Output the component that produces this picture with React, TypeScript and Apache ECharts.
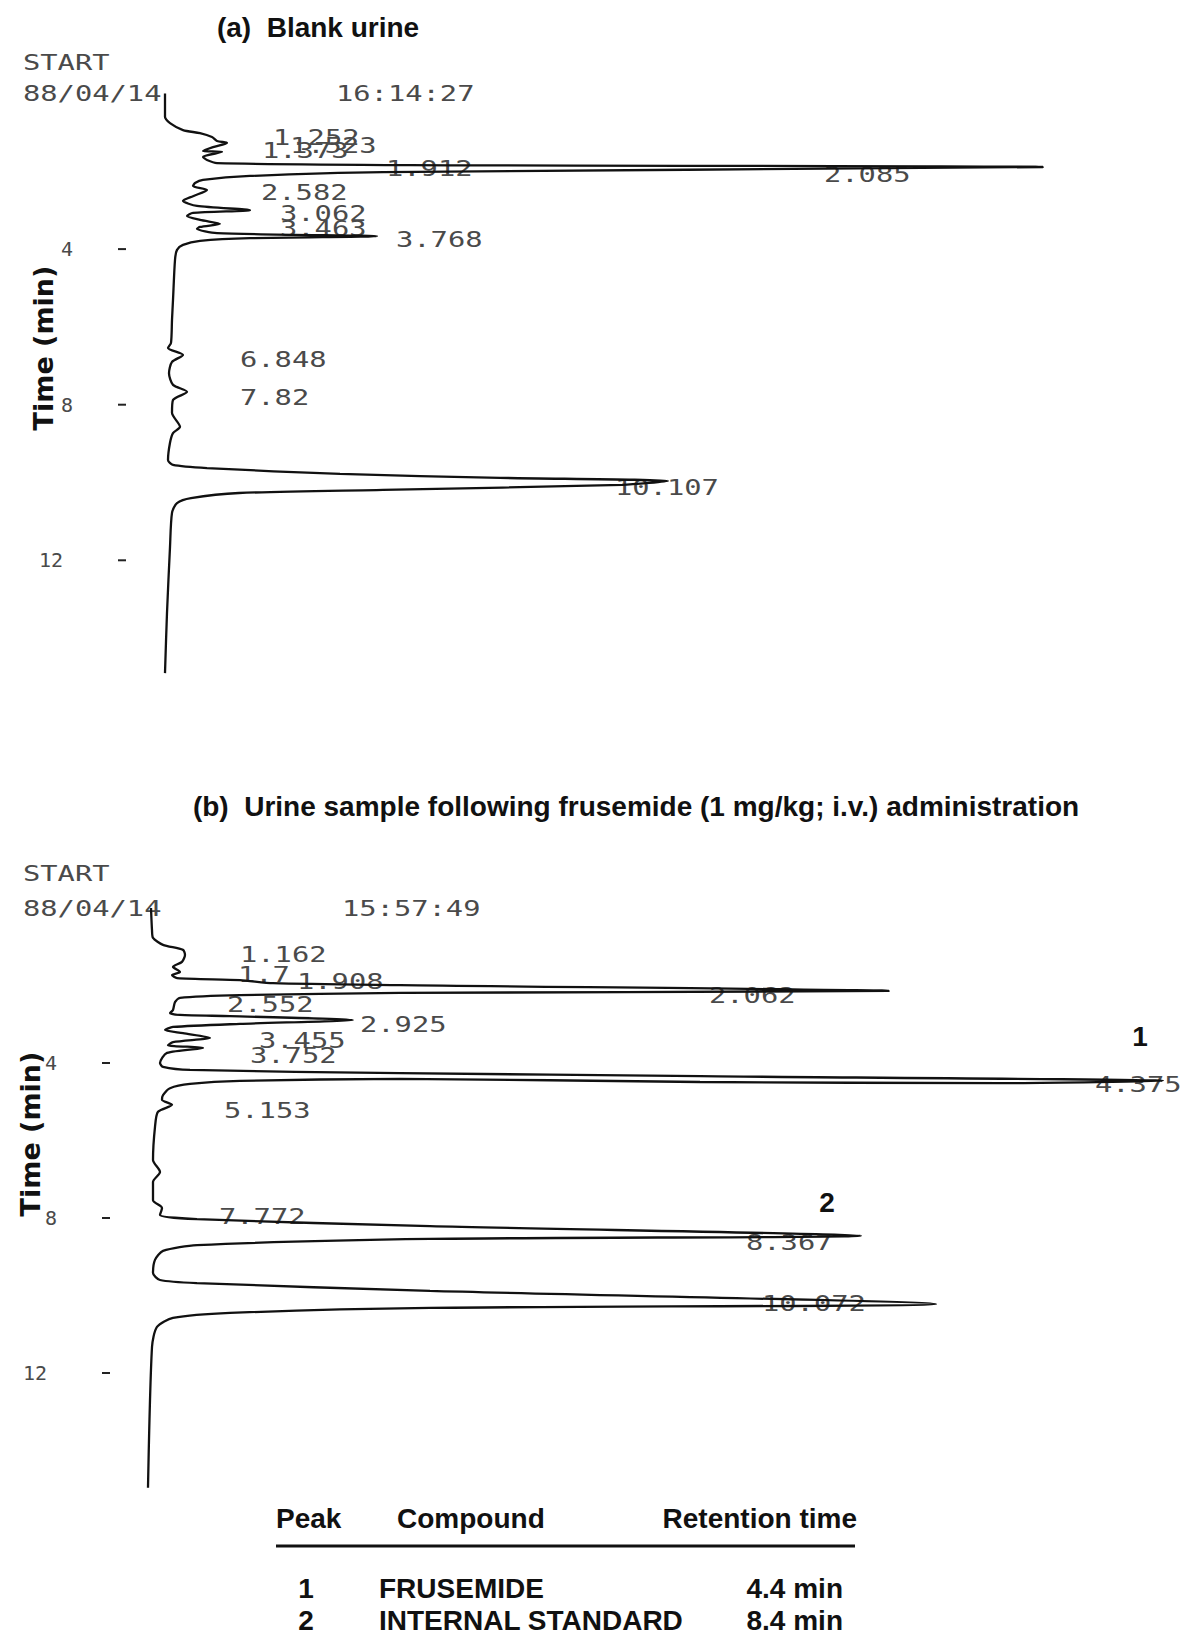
import React, { useEffect, useRef } from "react";
import * as echarts from "echarts";

// (a) Blank urine: pen trace as [time (min), detector signal (arb. units)]
const blankTrace: [number, number][] = [
  [0, 1.5], [0.6, 1.5], [0.76, 2.0], [0.94, 3.3], [1.02, 5.0], [1.12, 6.2], [1.22, 6.7],
  [1.27, 7.7], [1.38, 6.3], [1.48, 5.3], [1.5, 7.2], [1.63, 5.3], [1.71, 5.7], [1.79, 6.7],
  [1.84, 26], [1.89, 89.3], [2.02, 23.3], [2.12, 10], [2.22, 5.3], [2.3, 4.5], [2.38, 4.3],
  [2.48, 5.7], [2.64, 4.3], [2.76, 3.3], [2.89, 4.7], [3.0, 10], [3.07, 4.3], [3.15, 3.7],
  [3.25, 5.0], [3.35, 7.0], [3.43, 5.0], [3.48, 4.7], [3.59, 6.7], [3.67, 22.7], [3.72, 10],
  [3.79, 5.0], [3.89, 3.3], [4.02, 2.7], [4.28, 2.5], [5.31, 2.3], [5.82, 2.2], [6.41, 2.1],
  [6.54, 1.8], [6.72, 3.3], [6.9, 2.2], [7.19, 1.9], [7.49, 2.3], [7.67, 3.7], [7.88, 2.3],
  [8.21, 2.2], [8.57, 3.0], [8.73, 2.3], [8.98, 2.0], [9.42, 1.8], [9.55, 2.3], [9.63, 5.7],
  [9.78, 19], [9.88, 35], [9.96, 51.8], [10.06, 47.2], [10.19, 23.3], [10.27, 8.9],
  [10.4, 4.1], [10.53, 2.7], [10.78, 2.2], [11.66, 2.0], [13.35, 1.7], [14.9, 1.5],
];

// (b) Urine after frusemide (1 mg/kg; i.v.): [time (min), detector signal (arb. units)]
const sampleTrace: [number, number][] = [
  [0, 1.7], [0.57, 1.8], [0.77, 1.9], [0.95, 2.9], [1.08, 4.9], [1.21, 5.1], [1.39, 4.8],
  [1.52, 3.9], [1.65, 4.6], [1.73, 3.8], [1.81, 4.3], [1.86, 10.6], [1.94, 13.9], [1.99, 26.6],
  [2.14, 75.5], [2.19, 26.6], [2.25, 10.6], [2.32, 4.6], [2.43, 4.1], [2.63, 3.9], [2.71, 3.6],
  [2.76, 4.6], [2.79, 9.6], [2.89, 21.9], [2.99, 10.6], [3.07, 3.9], [3.15, 3.1], [3.23, 4.9],
  [3.35, 7.6], [3.46, 3.9], [3.54, 3.4], [3.61, 6.9], [3.74, 3.3], [4.0, 2.6], [4.1, 2.9],
  [4.18, 5.6], [4.26, 26.6], [4.34, 56.6], [4.46, 102.9], [4.52, 86.6], [4.49, 56.6],
  [4.41, 26.6], [4.46, 10.6], [4.54, 5.6], [4.65, 3.6], [4.83, 2.9], [4.95, 2.8], [5.08, 3.8],
  [5.26, 2.4], [5.65, 2.1], [6.5, 1.9], [6.81, 2.6], [7.07, 1.9], [7.54, 1.9], [7.74, 2.8],
  [7.92, 2.6], [8.03, 6.3], [8.21, 29.6], [8.46, 72.7], [8.54, 29.6], [8.7, 6.3], [8.85, 2.9],
  [9.08, 2.1], [9.42, 1.9], [9.6, 2.6], [9.68, 6.3], [9.88, 29.6], [10.22, 80.2], [10.32, 29.6],
  [10.45, 9.6], [10.58, 3.9], [10.81, 2.3], [11.33, 1.8], [14.96, 1.4],
];

// Retention times printed by the integrator
const blankPeakTimes = [1.252, 1.373, 1.523, 1.912, 2.085, 2.582, 3.062, 3.463, 3.768, 6.848, 7.82, 10.107];
const samplePeakTimes = [1.162, 1.7, 1.908, 2.062, 2.552, 2.925, 3.455, 3.752, 4.375, 5.153, 7.772, 8.367, 10.072];

// Time-axis ticks (min)
const timeTicks = [4, 8, 12];

// Peak identification table
const tablePeaks = [1, 2];
const tableCompounds = ["FRUSEMIDE", "INTERNAL STANDARD"];
const tableTimes = [4.4, 8.4];

// Placement of the integrator's printed times: [signal x, vertical nudge px]
const blankLabelPlace: [number, number][] = [
  [12.3, -4], [11.2, 4], [14, -7], [23.6, 1], [67.4, 0], [11.1, -1],
  [13, 1], [13, 1], [24.6, 0], [9, 0], [9, 0], [46.5, 1],
];
const sampleLabelPlace: [number, number][] = [
  [10.6, 2], [10.4, 1], [16.3, 0], [57.5, 8], [9.3, -2], [22.6, 4], [12.5, -1],
  [11.6, 3], [96.1, 7], [9, 3], [8.5, 8], [61.2, 11], [62.8, 6],
];

const MONO = '"DejaVu Sans Mono", "Liberation Mono", monospace';
const SANS = '"Liberation Sans", Arial, Helvetica, sans-serif';
const INK = "#111";
const PRINT_INK = "#4a4a4a";
const AXIS_OFFSET = 24;

function printed(text: string, x: number, y: number, align: string = "left") {
  return {
    type: "text",
    x,
    y,
    scaleX: 1.37,
    silent: true,
    style: {
      text,
      fontFamily: MONO,
      fontSize: 21,
      fill: PRINT_INK,
      align,
      verticalAlign: "middle",
    },
  };
}

function bold(text: string, x: number, y: number, align: string = "left", size = 24) {
  return {
    type: "text",
    x,
    y,
    silent: true,
    style: {
      text,
      fontFamily: SANS,
      fontWeight: "bold",
      fontSize: size,
      fill: INK,
      align,
      verticalAlign: "middle",
    },
  };
}

function timeAxis(gridIndex: number) {
  return {
    gridIndex,
    type: "value",
    min: 0,
    max: 15,
    inverse: true,
    offset: AXIS_OFFSET,
    axisLine: { show: false },
    splitLine: { show: false },
    axisTick: { show: false },
    axisLabel: {
      customValues: timeTicks,
      margin: 53,
      fontFamily: MONO,
      fontSize: 20,
      color: PRINT_INK,
      formatter: (v: number) => (v >= 10 ? `{w|${v}}` : `{n|${v}}`),
      rich: {
        n: { fontFamily: MONO, fontSize: 20, color: PRINT_INK },
        w: { fontFamily: MONO, fontSize: 20, color: PRINT_INK, padding: [0, 10, 0, 0] },
      },
    },
  };
}

export default function App() {
  const ref = useRef<HTMLDivElement>(null);

  useEffect(() => {
    if (!ref.current) return;
    const chart = echarts.init(ref.current, undefined, { renderer: "svg" });

    const grids = [
      { left: 150, top: 93.5, width: 1000, height: 583.5 },
      { left: 134, top: 908, width: 1040, height: 581.25 },
    ];

    chart.setOption({
      animation: false,
      backgroundColor: "#ffffff",
      grid: grids,
      xAxis: [
        { gridIndex: 0, type: "value", min: 0, max: 100, show: false },
        { gridIndex: 1, type: "value", min: 0, max: 104, show: false },
      ],
      yAxis: [timeAxis(0), timeAxis(1)],
      series: [
        {
          type: "line",
          xAxisIndex: 0,
          yAxisIndex: 0,
          data: blankTrace.map(([t, s]) => [s, t]),
          symbol: "none",
          smooth: 0.25,
          silent: true,
          lineStyle: { color: INK, width: 2.3 },
        },
        {
          type: "line",
          xAxisIndex: 1,
          yAxisIndex: 1,
          data: sampleTrace.map(([t, s]) => [s, t]),
          symbol: "none",
          smooth: 0.25,
          silent: true,
          lineStyle: { color: INK, width: 2.3 },
        },
      ],
    });

    const graphics: any[] = [];

    // short tick dashes beside each time label
    grids.forEach((g, gi) => {
      const axisX = g.left - AXIS_OFFSET;
      timeTicks.forEach((t) => {
        const [, py] = chart.convertToPixel({ gridIndex: gi }, [0, t]) as number[];
        graphics.push({
          type: "line",
          silent: true,
          shape: { x1: axisX - 8, y1: py, x2: axisX, y2: py },
          style: { stroke: "#222", lineWidth: 2 },
        });
      });
    });

    // integrator retention-time printouts, positioned from their time values
    blankPeakTimes.forEach((t, i) => {
      const [sx, dy] = blankLabelPlace[i];
      const [px, py] = chart.convertToPixel({ gridIndex: 0 }, [sx, t]) as number[];
      graphics.push(printed(String(t), px, py + dy));
    });
    samplePeakTimes.forEach((t, i) => {
      const [sx, dy] = sampleLabelPlace[i];
      const [px, py] = chart.convertToPixel({ gridIndex: 1 }, [sx, t]) as number[];
      graphics.push(printed(String(t), px, py + dy));
    });

    // run headers
    graphics.push(printed("START", 23, 63));
    graphics.push(printed("88/04/14", 23, 94));
    graphics.push(printed("16:14:27", 336, 94));
    graphics.push(printed("START", 23, 874));
    graphics.push(printed("88/04/14", 23, 909));
    graphics.push(printed("15:57:49", 342, 909));

    // panel titles
    graphics.push(bold("(a)  Blank urine", 318, 27, "center", 28));
    graphics.push(
      bold("(b)  Urine sample following frusemide (1 mg/kg; i.v.) administration", 636, 806, "center", 28)
    );

    // axis titles
    const axisTitle = (x: number, y: number) => ({
      type: "text",
      x,
      y,
      rotation: Math.PI / 2,
      silent: true,
      style: {
        text: "Time (min)",
        fontFamily: '"DejaVu Sans", sans-serif',
        fontWeight: "bold",
        fontSize: 27,
        fill: INK,
        align: "center",
        verticalAlign: "middle",
      },
    });
    graphics.push(axisTitle(43, 348));
    graphics.push(axisTitle(30, 1134));

    // peak numbers
    graphics.push(bold("1", 1140, 1036, "center", 28));
    graphics.push(bold("2", 827, 1202, "center", 28));

    // identification table
    graphics.push(bold("Peak", 276, 1518, "left", 28));
    graphics.push(bold("Compound", 397, 1518, "left", 28));
    graphics.push(bold("Retention time", 857, 1518, "right", 28));
    graphics.push({
      type: "line",
      silent: true,
      shape: { x1: 276, y1: 1546, x2: 855, y2: 1546 },
      style: { stroke: INK, lineWidth: 3 },
    });
    tablePeaks.forEach((p, i) => {
      const y = 1588 + i * 32;
      graphics.push(bold(String(p), 306, y, "center", 28));
      graphics.push(bold(tableCompounds[i], 379, y, "left", 28));
      graphics.push(bold(`${tableTimes[i]} min`, 843, y, "right", 28));
    });

    chart.setOption({ graphic: graphics });

    return () => chart.dispose();
  }, []);

  return (
    <div
      ref={ref}
      style={{ position: "absolute", left: 0, top: 0, width: 1184, height: 1635, background: "#fff" }}
    />
  );
}
